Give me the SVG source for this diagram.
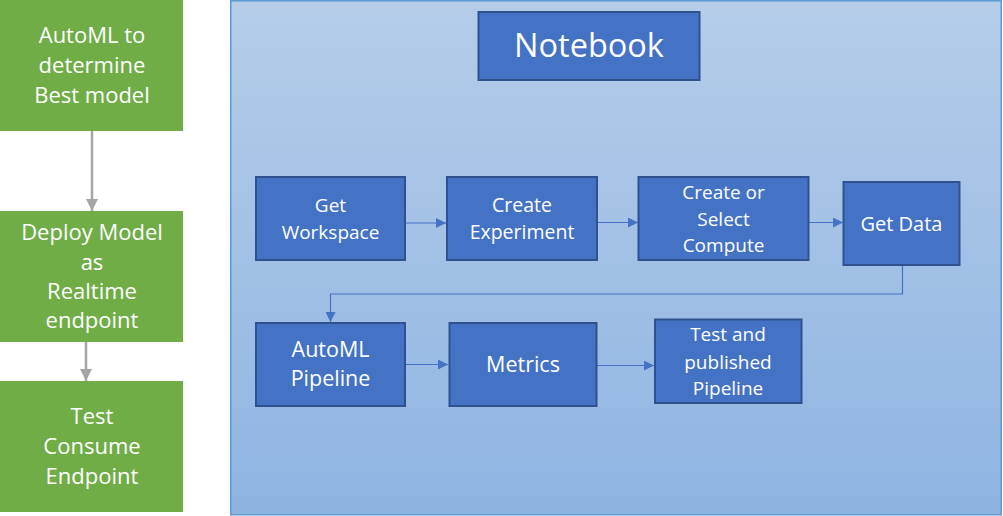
<svg xmlns="http://www.w3.org/2000/svg" width="1003" height="516" viewBox="0 0 1003 516">
<defs>
<linearGradient id="bg" x1="0" y1="0" x2="0" y2="1">
<stop offset="0" stop-color="#B5CDE9"/>
<stop offset="1" stop-color="#8FB4E2"/>
</linearGradient>
<marker id="ab" viewBox="0 0 10 10" refX="10" refY="5" markerWidth="10" markerHeight="10" markerUnits="userSpaceOnUse" orient="auto">
<path d="M0,0 L10,5 L0,10 z" fill="#4472C4"/>
</marker>
<marker id="ag" viewBox="0 0 10 10" refX="10" refY="5" markerWidth="12" markerHeight="12" markerUnits="userSpaceOnUse" orient="auto">
<path d="M0,0 L10,5 L0,10 z" fill="#A5A5A5"/>
</marker>
</defs>
<style>
.g{fill:#70AD47}
.b{fill:#4472C4;stroke:#2F528F;stroke-width:2}
.t{font-family:"Open Sans","Noto Sans",sans-serif;fill:#fff;text-anchor:middle}
.s{font-size:19px}
.m{font-size:21.5px}
.gt{font-size:22px}
.cb{stroke:#4472C4;stroke-width:1.2;fill:none;marker-end:url(#ab)}
.cg{stroke:#A5A5A5;stroke-width:2.5;fill:none;marker-end:url(#ag)}
</style>
<rect width="1003" height="516" fill="#fff"/>
<g id="container">
<rect x="230.75" y="0.75" width="770.5" height="514" fill="url(#bg)" stroke="#5B9BD5" stroke-width="1.5"/>
</g>
<g id="connectors">
<line class="cg" x1="92" y1="131" x2="92" y2="211"/>
<line class="cg" x1="86" y1="342" x2="86" y2="381"/>
<line class="cb" x1="405" y1="223" x2="446" y2="223"/>
<line class="cb" x1="597" y1="222.5" x2="638" y2="222.5"/>
<line class="cb" x1="808" y1="222.5" x2="843" y2="222.5"/>
<polyline class="cb" points="902.5,265 902.5,294 330.5,294 330.5,322"/>
<line class="cb" x1="405" y1="364.5" x2="448" y2="364.5"/>
<line class="cb" x1="596" y1="365.5" x2="654" y2="365.5"/>
</g>
<g id="automl-best">
<rect class="g" x="0" y="0" width="183" height="131"/>
<text class="t gt" x="92" y="43">AutoML to</text>
<text class="t gt" x="92" y="73">determine</text>
<text class="t gt" x="92" y="103">Best model</text>
</g>
<g id="deploy">
<rect class="g" x="0" y="211" width="183" height="131"/>
<text class="t gt" x="92" y="240">Deploy Model</text>
<text class="t gt" x="92" y="270">as</text>
<text class="t gt" x="92" y="299">Realtime</text>
<text class="t gt" x="92" y="328">endpoint</text>
</g>
<g id="test-consume">
<rect class="g" x="0" y="381" width="183" height="131"/>
<text class="t gt" x="92" y="424">Test</text>
<text class="t gt" x="92" y="454">Consume</text>
<text class="t gt" x="92" y="484">Endpoint</text>
</g>
<g id="notebook">
<rect class="b" x="478.5" y="12" width="221" height="68"/>
<text class="t" x="589" y="57" font-size="32.5">Notebook</text>
</g>
<g id="get-workspace">
<rect class="b" x="256" y="177" width="149" height="83"/>
<text class="t s" x="330.5" y="212">Get</text>
<text class="t s" x="330.5" y="239">Workspace</text>
</g>
<g id="create-experiment">
<rect class="b" x="447" y="177" width="150" height="83"/>
<text class="t" x="522" y="212" font-size="19.5">Create</text>
<text class="t" x="522" y="239" font-size="19.5">Experiment</text>
</g>
<g id="compute">
<rect class="b" x="638.5" y="177" width="170" height="83"/>
<text class="t s" x="723.5" y="199">Create or</text>
<text class="t s" x="723.5" y="225.5">Select</text>
<text class="t s" x="723.5" y="251.5">Compute</text>
</g>
<g id="get-data">
<rect class="b" x="843.5" y="182" width="116" height="83"/>
<text class="t" x="901.5" y="231" font-size="20">Get Data</text>
</g>
<g id="automl-pipeline">
<rect class="b" x="256" y="323" width="149" height="83"/>
<text class="t m" x="330.5" y="356.5">AutoML</text>
<text class="t m" x="330.5" y="386">Pipeline</text>
</g>
<g id="metrics">
<rect class="b" x="449.5" y="323" width="147" height="83"/>
<text class="t m" x="523" y="372">Metrics</text>
</g>
<g id="test-published">
<rect class="b" x="655" y="319.5" width="146.5" height="83.5"/>
<text class="t s" x="728" y="341">Test and</text>
<text class="t s" x="728" y="369">published</text>
<text class="t s" x="728" y="395">Pipeline</text>
</g>
</svg>
